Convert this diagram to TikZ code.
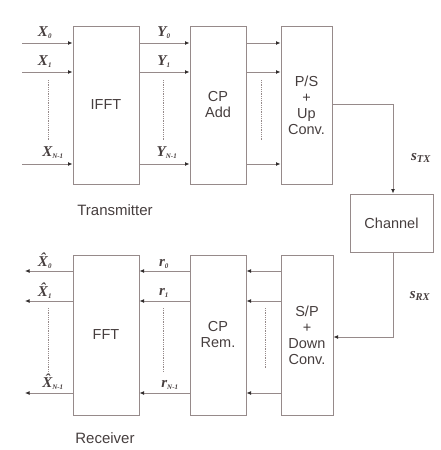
\documentclass[tikz,border=0pt]{standalone}
\usepackage{fontspec}
\setmainfont{Liberation Sans}
\newfontfamily\serifit{Liberation Serif}
\usetikzlibrary{arrows.meta}
\definecolor{ln}{RGB}{150,138,138}
\definecolor{tx}{RGB}{70,62,62}
\definecolor{tip}{RGB}{50,45,45}
\tikzset{
  blk/.style={draw=ln, line width=1pt, minimum width=#1, inner sep=0pt, align=center, text=tx, font=\fontsize{14.5}{16}\selectfont},
  sig/.style={draw=ln, line width=1pt, -{Latex[length=4.5pt,width=4pt,color=tip]}},
  dots/.style={draw=ln, line width=0.8pt, densely dotted},
  lab/.style={text=tx, font=\fontsize{15}{15}\serifit\bfseries\itshape, inner sep=0pt},
  captxt/.style={text=tx, font=\fontsize{15}{16}\selectfont, inner sep=0pt}
}
\newcommand{\sub}[1]{\textsubscript{\fontsize{7}{7}\selectfont #1}}
\begin{document}
\begin{tikzpicture}[x=1pt,y=-1pt]
\useasboundingbox (0,0) rectangle (440,450);
% blocks
\node[blk=66pt, minimum height=158pt] (ifft) at (106,105) {IFFT};
\node[blk=56pt, minimum height=158pt] (cpadd) at (218,105) {CP\\Add};
\node[blk=51pt, minimum height=158pt] (ps) at (306.5,105) {P/S\\+\\Up\\Conv.};
\node[blk=83pt, minimum height=58pt] (chan) at (391.5,223) {Channel};
\node[blk=52pt, minimum height=160pt] (sp) at (307,335) {S/P\\+\\Down\\Conv.};
\node[blk=56pt, minimum height=160pt] (cprem) at (218,335) {CP\\Rem.};
\node[blk=66pt, minimum height=160pt] (fft) at (106,335) {FFT};
% helper coordinates
\coordinate (t0) at (22,43);
\coordinate (t1) at (22,72);
\coordinate (t2) at (22,164);
\coordinate (r0) at (25,271);
\coordinate (r1) at (25,301);
\coordinate (r2) at (25,393);
\coordinate (bend1) at (393,104);
\coordinate (bend2) at (393,337);
% transmitter connections
\foreach \c in {t0,t1,t2}{
  \draw[sig] (\c) -- (ifft.west |- \c);
  \draw[sig] (ifft.east |- \c) -- (cpadd.west |- \c);
  \draw[sig] (cpadd.east |- \c) -- (ps.west |- \c);
}
\draw[sig] (ps.east |- bend1) -- (bend1) -- (chan.north -| bend1);
\draw[sig] (chan.south -| bend2) -- (bend2) -- (sp.east |- bend2);
% receiver connections
\foreach \c in {r0,r1,r2}{
  \draw[sig] (sp.west |- \c) -- (cprem.east |- \c);
  \draw[sig] (cprem.west |- \c) -- (fft.east |- \c);
  \draw[sig] (fft.west |- \c) -- (\c);
}
% dotted lines
\coordinate (d1a) at (48,80); \coordinate (d1b) at (48,140);
\coordinate (d2a) at (163,80); \coordinate (d2b) at (163,140);
\coordinate (d3a) at (261,80); \coordinate (d3b) at (261,140);
\coordinate (d4a) at (48,308); \coordinate (d4b) at (48,372);
\coordinate (d5a) at (163,308); \coordinate (d5b) at (163,372);
\coordinate (d6a) at (265,308); \coordinate (d6b) at (265,368);
\foreach \i in {1,...,6}{ \draw[dots] (d\i a) -- (d\i b); }
% labels
\node[lab] (lx0) at (45,33) {X\sub{0}};
\node[lab] (lx1) at (45,62) {X\sub{1}};
\node[lab] (lx2) at (53,153) {X\sub{N-1}};
\node[lab] (ly0) at (164,33) {Y\sub{0}};
\node[lab] (ly1) at (164,62) {Y\sub{1}};
\node[lab] (ly2) at (167,153) {Y\sub{N-1}};
\node[lab] (lh0) at (45,261) {X^^^^0302\sub{0}};
\node[lab] (lh1) at (45,291) {X^^^^0302\sub{1}};
\node[lab] (lh2) at (53,382) {X^^^^0302\sub{N-1}};
\node[lab] (lr0) at (164,264) {r\sub{0}};
\node[lab] (lr1) at (164,293) {r\sub{1}};
\node[lab] (lr2) at (170,385) {r\sub{N-1}};
\node[lab] (stx) at (421,158) {s\textsubscript{\fontsize{10.5}{10.5}\selectfont TX}};
\node[lab] (srx) at (420,296) {s\textsubscript{\fontsize{10.5}{10.5}\selectfont RX}};
\node[captxt] (ltx) at (115,210) {Transmitter};
\node[captxt] (lrx) at (105,438) {Receiver};
\end{tikzpicture}
\end{document}
